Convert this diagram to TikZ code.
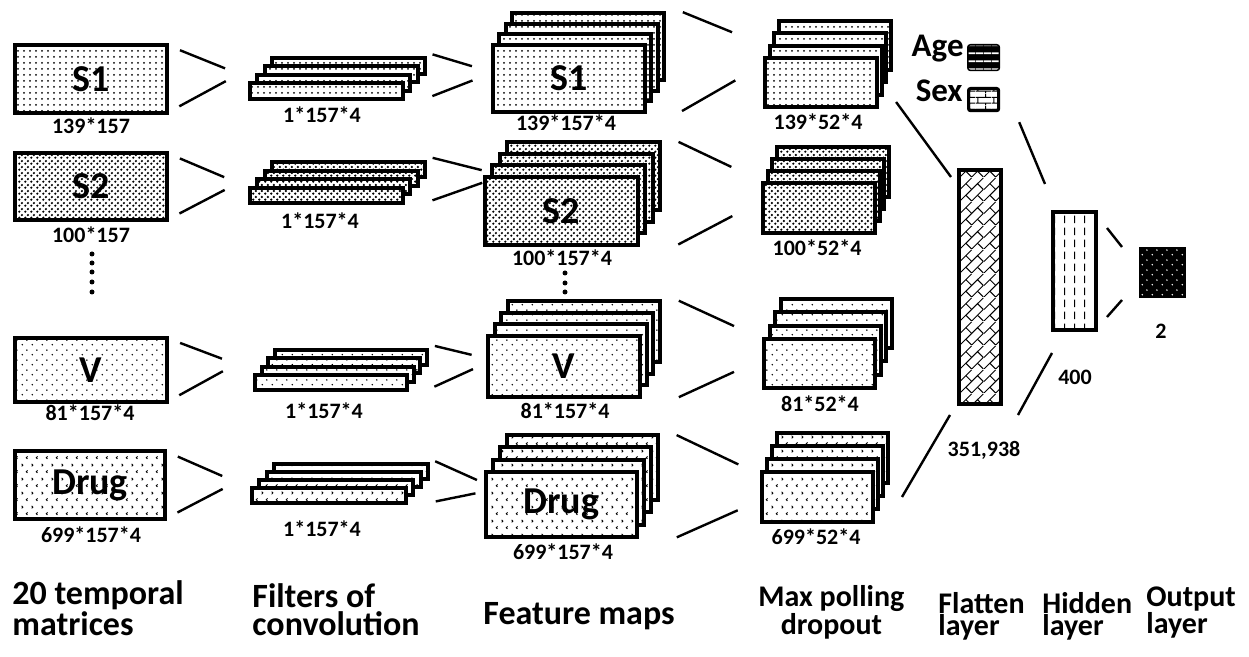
\documentclass[tikz,border=0pt]{standalone}
\usepackage{fontspec}
\setmainfont{Carlito}
\usetikzlibrary{patterns,calc}

\pgfdeclarepatternformonly{darkdots}{\pgfqpoint{0pt}{0pt}}{\pgfqpoint{3pt}{3pt}}{\pgfqpoint{3pt}{3pt}}{%
  \pgfpathcircle{\pgfqpoint{.75pt}{.75pt}}{.7pt}%
  \pgfpathcircle{\pgfqpoint{2.25pt}{2.25pt}}{.7pt}%
  \pgfusepath{fill}}
\pgfdeclarepatternformonly{sparsedots}{\pgfqpoint{0pt}{0pt}}{\pgfqpoint{5pt}{5pt}}{\pgfqpoint{5pt}{5pt}}{%
  \pgfpathcircle{\pgfqpoint{1.25pt}{1.25pt}}{.45pt}%
  \pgfpathcircle{\pgfqpoint{3.75pt}{3.75pt}}{.45pt}%
  \pgfusepath{fill}}
\pgfdeclarepatternformonly{chevrons}{\pgfqpoint{0pt}{0pt}}{\pgfqpoint{5pt}{7pt}}{\pgfqpoint{5pt}{7pt}}{%
  \pgfsetlinewidth{.45pt}%
  \pgfpathmoveto{\pgfqpoint{.9pt}{5.9pt}}\pgfpathlineto{\pgfqpoint{1.6pt}{5.25pt}}\pgfpathlineto{\pgfqpoint{.9pt}{4.6pt}}%
  \pgfpathmoveto{\pgfqpoint{4.1pt}{2.4pt}}\pgfpathlineto{\pgfqpoint{3.4pt}{1.75pt}}\pgfpathlineto{\pgfqpoint{4.1pt}{1.1pt}}%
  \pgfusepath{stroke}}
\pgfdeclarepatternformonly{vdashes}{\pgfqpoint{0pt}{0pt}}{\pgfqpoint{5pt}{6pt}}{\pgfqpoint{5pt}{6pt}}{%
  \pgfsetlinewidth{.5pt}%
  \pgfpathmoveto{\pgfqpoint{2.5pt}{1pt}}\pgfpathlineto{\pgfqpoint{2.5pt}{5pt}}%
  \pgfusepath{stroke}}
\pgfdeclarepatternformonly{diagbricks}{\pgfqpoint{0pt}{0pt}}{\pgfqpoint{12pt}{12pt}}{\pgfqpoint{12pt}{12pt}}{%
  \pgfsetlinewidth{.5pt}%
  \pgfpathmoveto{\pgfqpoint{0pt}{0pt}}\pgfpathlineto{\pgfqpoint{12pt}{12pt}}%
  \pgfpathmoveto{\pgfqpoint{6pt}{0pt}}\pgfpathlineto{\pgfqpoint{12pt}{6pt}}%
  \pgfpathmoveto{\pgfqpoint{0pt}{6pt}}\pgfpathlineto{\pgfqpoint{6pt}{12pt}}%
  \pgfpathmoveto{\pgfqpoint{6pt}{0pt}}\pgfpathlineto{\pgfqpoint{3pt}{3pt}}%
  \pgfpathmoveto{\pgfqpoint{12pt}{6pt}}\pgfpathlineto{\pgfqpoint{9pt}{9pt}}%
  \pgfpathmoveto{\pgfqpoint{6pt}{6pt}}\pgfpathlineto{\pgfqpoint{3pt}{9pt}}%
  \pgfpathmoveto{\pgfqpoint{12pt}{0pt}}\pgfpathlineto{\pgfqpoint{9pt}{3pt}}%
  \pgfusepath{stroke}}
\pgfdeclarepatternformonly{hbars}{\pgfqpoint{0pt}{0pt}}{\pgfqpoint{4pt}{4pt}}{\pgfqpoint{4pt}{4pt}}{%
  \pgfsetlinewidth{1pt}%
  \pgfpathmoveto{\pgfqpoint{0pt}{2pt}}\pgfpathlineto{\pgfqpoint{4pt}{2pt}}%
  \pgfusepath{stroke}}
\pgfdeclarepatternformonly{smallbricks}{\pgfqpoint{0pt}{0pt}}{\pgfqpoint{8pt}{6pt}}{\pgfqpoint{8pt}{6pt}}{%
  \pgfsetlinewidth{.5pt}%
  \pgfpathmoveto{\pgfqpoint{0pt}{1pt}}\pgfpathlineto{\pgfqpoint{8pt}{1pt}}%
  \pgfpathmoveto{\pgfqpoint{0pt}{4pt}}\pgfpathlineto{\pgfqpoint{8pt}{4pt}}%
  \pgfpathmoveto{\pgfqpoint{1pt}{1pt}}\pgfpathlineto{\pgfqpoint{1pt}{4pt}}%
  \pgfpathmoveto{\pgfqpoint{5pt}{4pt}}\pgfpathlineto{\pgfqpoint{5pt}{6pt}}%
  \pgfpathmoveto{\pgfqpoint{5pt}{0pt}}\pgfpathlineto{\pgfqpoint{5pt}{1pt}}%
  \pgfusepath{stroke}}

\begin{document}
\begin{tikzpicture}[x=0.5pt,y=-0.5pt,
    sheet/.style={draw,line width=2pt,preaction={fill=white},inner sep=0pt,outer sep=0pt,anchor=north west},
    fan/.style={line width=1.2pt},
    dim/.style={font=\fontsize{11}{13}\selectfont\bfseries,inner sep=0pt},
    big/.style={font=\fontsize{19}{21}\selectfont\bfseries,inner sep=0pt},
    caption/.style={font=\fontsize{17}{14}\selectfont\bfseries,inner sep=0pt,align=left,anchor=base west},
    smallcaption/.style={font=\fontsize{15}{11}\selectfont\bfseries,inner sep=0pt,align=left,anchor=base west}]
  \useasboundingbox (0,0) rectangle (1249,657);

  \node [sheet,pattern=dots,minimum width=76pt,minimum height=34pt] (in1) at (15,45) {};
  \node [sheet,pattern=darkdots,minimum width=76pt,minimum height=33.5pt] (in2) at (15,153) {};
  \node [sheet,pattern=sparsedots,minimum width=76pt,minimum height=32pt] (in3) at (15,338) {};
  \node [sheet,pattern=chevrons,minimum width=75pt,minimum height=34pt] (in4) at (15,451) {};
  \node [big] (in1-txt) at (in1) {S1};
  \node [big] (in2-txt) at (in2) {S2};
  \node [big] (in3-txt) at (in3) {V};
  \node [big] (in4-txt) at (in4) {Drug};
  \node [dim] (in1-dim) at (91,126) {139*157};
  \node [dim] (in2-dim) at (91,235) {100*157};
  \node [dim] (in3-dim) at (90,413) {81*157*4};
  \node [dim] (in4-dim) at (91,535) {699*157*4};
  \foreach \yy in {254,263,272,282,292}
    \fill (92,\yy) circle [radius=2.5];

  \foreach \nm/\x/\y/\w/\h/\dx/\dy/\pat in {
      fi1/250/83/153/16/7.3/-8.3/dots, fi2/250/188/153/15/7.3/-8.7/darkdots,
      fi3/255/375/152/15/6.7/-8.3/sparsedots, fi4/252/488/154/15/7.3/-8/chevrons,
      fe1/493/45/152/67/6.3/-10.7/dots, fe2/485/177/153/68/7.3/-11.7/darkdots,
      fe3/488/336/152/61/6.7/-11.7/sparsedots, fe4/486/472/151/65/7/-12.3/chevrons,
      mp1/765/58/112/49/4.7/-12.3/dots, mp2/763/183/112/50/4.7/-12/darkdots,
      mp3/764/339/111/49/5.7/-13.3/sparsedots, mp4/762/472/111/50/5/-13/chevrons}
    \foreach \i in {3,2,1,0}
      \node [sheet,pattern=\pat,minimum width=\w*0.5pt,minimum height=\h*0.5pt] (\nm-\i) at ({\x+\i*\dx},{\y+\i*\dy}) {};

  \node [big] (fe1-txt) at (fe1-0) {S1};
  \node [big] (fe2-txt) at (fe2-0) {S2};
  \node [big] (fe3-txt) at (fe3-0) {V};
  \node [big] (fe4-txt) at (fe4-0) {Drug};
  \foreach \yy in {273,283,292}
    \fill (565,\yy) circle [radius=2.5];

  \node [dim] (fi1-dim) at (322,115) {1*157*4};
  \node [dim] (fi2-dim) at (320,221) {1*157*4};
  \node [dim] (fi3-dim) at (324,411) {1*157*4};
  \node [dim] (fi4-dim) at (322,529) {1*157*4};
  \node [dim] (fe1-dim) at (566,123) {139*157*4};
  \node [dim] (fe2-dim) at (562,258) {100*157*4};
  \node [dim] (fe3-dim) at (565,411) {81*157*4};
  \node [dim] (fe4-dim) at (563,552) {699*157*4};
  \node [dim] (mp1-dim) at (818,122) {139*52*4};
  \node [dim] (mp2-dim) at (817,248) {100*52*4};
  \node [dim] (mp3-dim) at (820,404) {81*52*4};
  \node [dim] (mp4-dim) at (816,537) {699*52*4};

  \coordinate (j1) at (239,74);
  \coordinate (j2) at (238,183);
  \coordinate (j3) at (236,364);
  \coordinate (j4) at (236,482);
  \coordinate (k1) at (493,72.5);
  \coordinate (k2) at (503,175.5);
  \coordinate (k3) at (493,360);
  \coordinate (k4) at (497,489);
  \coordinate (m1) at (783,53);
  \coordinate (m2) at (781,190.5);
  \coordinate (m3) at (784,349);
  \coordinate (m4) at (788,488);
  \foreach \s/\j in {in1/j1,in2/j2,in3/j3,in4/j4} {
    \draw [fan,shorten <=7pt,shorten >=7.5pt] (\s.north east) -- (\j);
    \draw [fan,shorten <=7pt,shorten >=7.5pt] (\s.south east) -- (\j);
  }
  \foreach \s/\j in {fi1/k1,fi2/k2,fi3/k3,fi4/k4} {
    \draw [fan,shorten <=4pt,shorten >=11pt] ($(\s-3.north east)+(0,-6)$) -- (\j);
    \draw [fan,shorten <=4pt,shorten >=11pt] (\s-3.east |- \s-0.south) -- (\j);
  }
  \foreach \s/\j in {fe1/m1,fe2/m2,fe3/m3,fe4/m4} {
    \draw [fan,shorten <=7pt,shorten >=27.5pt] ($(\s-3.north east)+(6,-6)$) -- (\j);
    \draw [fan,shorten <=7pt,shorten >=27.5pt] ($(\s-3.east |- \s-0.south)+(6,6)$) -- (\j);
  }

  \node [font=\fontsize{16.5}{18}\selectfont\bfseries,inner sep=0pt,anchor=base east] (age) at (964,57) {Age};
  \node [font=\fontsize{16.5}{18}\selectfont\bfseries,inner sep=0pt,anchor=base east] (sex) at (963,102) {Sex};
  \node [draw,line width=1.6pt,rounded corners=1pt,fill=black,postaction={pattern=hbars,pattern color=white},
    inner sep=0pt,anchor=north west,minimum width=15pt,minimum height=12pt] (agebox) at (967,44) {};
  \node [draw,line width=1.6pt,rounded corners=1pt,preaction={fill=white},pattern=smallbricks,
    inner sep=0pt,anchor=north west,minimum width=15pt,minimum height=11pt] (sexbox) at (967,87) {};

  \node [sheet,pattern=diagbricks,minimum width=21pt,minimum height=117pt] (fl) at (959,170) {};
  \node [sheet,pattern=vdashes,minimum width=21.5pt,minimum height=59pt] (hid) at (1053,212) {};
  \node [sheet,fill=black,postaction={pattern=sparsedots,pattern color=white},minimum width=21.5pt,minimum height=23.5pt] (out) at (1141,249) {};
  \node [dim] (fl-dim) at (984,450) {351,938};
  \node [dim] (hid-dim) at (1075,377) {400};
  \node [dim] (out-dim) at (1161,331) {2};

  \draw [fan] ($(mp1-3.east |- mp1-0.south)+(5,-5)$) -- ($(fl.north west)+(-8,7)$);
  \draw [fan] ($(sexbox.south east)+(19,10)$) -- ($(hid.north west)+(-8,-28)$);
  \draw [fan] ($(fl.south west)+(-9,11)$) -- ($(mp4-3.east |- mp4-0.south)+(14,-25)$);
  \draw [fan] ($(fl.south east)+(17,11)$) -- ($(hid.south west)+(-1,23)$);
  \draw [fan] ($(hid.north east)+(11,16)$) -- ($(out.north west)+(-19,-2)$);
  \draw [fan] ($(hid.south east)+(11,-13)$) -- ($(out.south west)+(-19,4)$);

  \node [caption] (cap-in) at (12,636) {20 temporal\\matrices};
  \node [caption] (cap-fi) at (252,636) {Filters of\\convolution};
  \node [caption] (cap-fe) at (483,625) {Feature maps};
  \node [smallcaption,align=center] (cap-mp) at (758,635) {Max polling\\dropout};
  \node [smallcaption] (cap-fl) at (938,636) {Flatten\\layer};
  \node [smallcaption] (cap-hid) at (1042,636) {Hidden\\layer};
  \node [smallcaption] (cap-out) at (1146,634) {Output\\layer};
\end{tikzpicture}
\end{document}
